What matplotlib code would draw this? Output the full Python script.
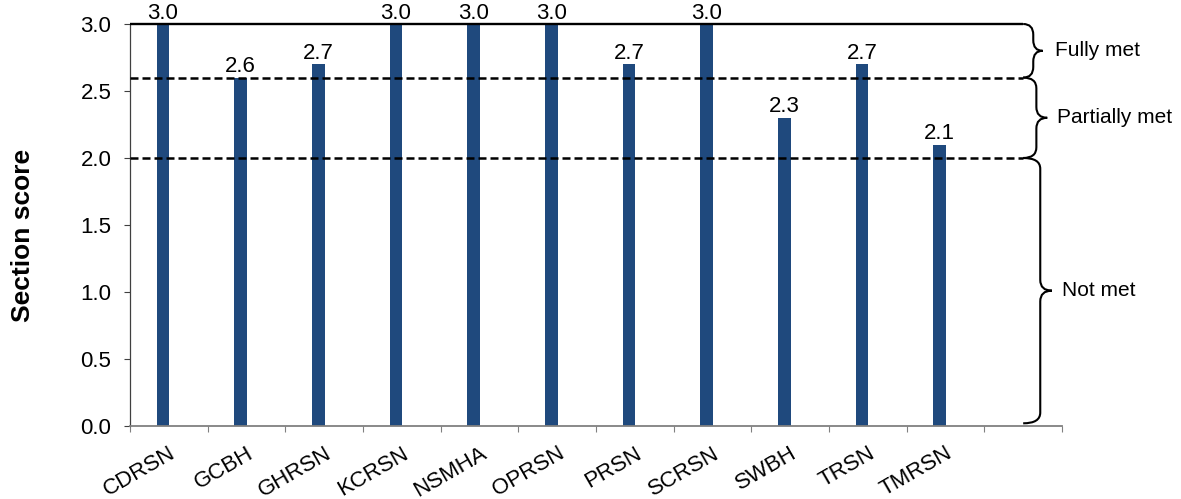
import matplotlib
matplotlib.use("Agg")
import matplotlib.pyplot as plt
from matplotlib.path import Path
from matplotlib.patches import PathPatch

plt.rcParams['font.family'] = ['Liberation Sans', 'DejaVu Sans']

# ------------------------------------------------------------
# Data
# ------------------------------------------------------------
networks = ["CDRSN", "GCBH", "GHRSN", "KCRSN", "NSMHA", "OPRSN",
            "PRSN", "SCRSN", "SWBH", "TRSN", "TMRSN"]
scores = [3.0, 2.6, 2.7, 3.0, 3.0, 3.0, 2.7, 3.0, 2.3, 2.7, 2.1]

# score bands: (label, lower, upper)
band_labels = ["Fully met", "Partially met", "Not met"]
band_lower = [2.6, 2.0, 0.0]
band_upper = [3.0, 2.6, 2.0]

bar_color = '#1f497d'
n_slots = len(networks) + 1   # one empty slot on the right for the braces

fig = plt.figure(figsize=(11.81, 4.99), dpi=100)
ax = fig.add_axes([130 / 1181, 1 - 426 / 499, 932 / 1181, 402 / 499])

xs = [i - 0.075 for i in range(len(networks))]
ax.bar(xs, scores, width=0.16, color=bar_color, zorder=2)

for x, v in zip(xs, scores):
    ax.text(x, v + 0.04, f"{v:.1f}", ha='center', va='baseline',
            fontsize=16, clip_on=False)

# band boundaries
line_end = 11.0
ax.plot([-0.5, line_end], [3.0, 3.0], color='black', lw=1.7,
        clip_on=False, zorder=3, solid_capstyle='butt')
for y in band_lower[:2]:
    ax.plot([-0.5, line_end], [y, y], color='black', lw=1.8,
            dashes=(3.2, 1.6), zorder=3)


def brace(ax, y_bot, y_top, x0, x1, x2, r=0.08):
    """curly brace opening to the left, tip pointing right"""
    ym = (y_bot + y_top) / 2
    verts = [(x0, y_top), (x1, y_top), (x1, y_top - r),
             (x1, ym + r), (x1, ym), (x2, ym),
             (x1, ym), (x1, ym - r),
             (x1, y_bot + r), (x1, y_bot), (x0, y_bot)]
    codes = [Path.MOVETO, Path.CURVE3, Path.CURVE3,
             Path.LINETO, Path.CURVE3, Path.CURVE3,
             Path.CURVE3, Path.CURVE3,
             Path.LINETO, Path.CURVE3, Path.CURVE3]
    ax.add_patch(PathPatch(Path(verts, codes), fill=False, lw=1.5,
                           edgecolor='black', clip_on=False))
    return ym


brace_x1 = [11.13, 11.17, 11.22]
brace_tip = [11.25, 11.31, 11.37]
text_x = [11.41, 11.44, 11.50]
for lab, lo, hi, bx1, bx2, tx in zip(band_labels, band_lower, band_upper,
                                     brace_x1, brace_tip, text_x):
    lo_end = lo + 0.02 if lo == 0 else lo
    ym = brace(ax, lo_end, hi, line_end, bx1, bx2)
    ax.text(tx, ym, lab, ha='left', va='center', fontsize=15, clip_on=False)

# axes styling
ax.set_xlim(-0.5, n_slots - 0.5)
ax.set_ylim(0, 3.0)
ax.set_yticks([0, 0.5, 1.0, 1.5, 2.0, 2.5, 3.0])
ax.set_yticklabels([f"{t:.1f}" for t in ax.get_yticks()], fontsize=16)
ax.set_xticks([k - 0.5 for k in range(n_slots + 1)])
ax.set_xticklabels([])
ax.set_xticks(range(len(networks)), minor=True)
ax.set_xticklabels(networks, minor=True, fontsize=16, rotation=30,
                   ha='right', rotation_mode='anchor')
ax.tick_params(axis='x', which='minor', length=0, pad=12)
ax.tick_params(axis='x', which='major', length=4.5, color='#808080')
ax.tick_params(axis='y', length=4.5, pad=9, color='#404040')

for side in ['top', 'right']:
    ax.spines[side].set_visible(False)
ax.spines['left'].set_color('#404040')
ax.spines['left'].set_linewidth(0.9)
ax.spines['bottom'].set_color('#808080')
ax.spines['bottom'].set_linewidth(1.3)

fig.text(23 / 1181, 1 - 235 / 499, "Section score", rotation=90,
         ha='center', va='center', fontsize=19, fontweight='bold')

fig.savefig("out.png", dpi=100)
